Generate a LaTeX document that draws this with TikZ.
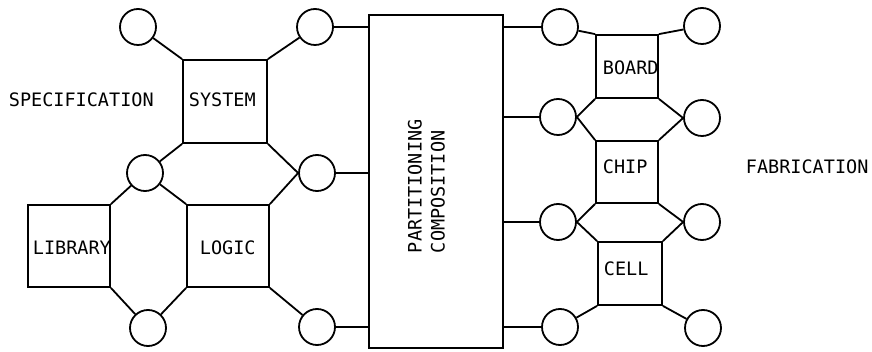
\documentclass[tikz,border=0pt]{standalone}
\usepackage{fontspec}
\newfontfamily\labfont{DejaVu Sans Mono}
\begin{document}
\begin{tikzpicture}[x=1pt,y=-1pt,
  every path/.style={line width=1.8pt},
  blk/.style={draw,line width=1.8pt,rectangle,inner sep=0pt},
  port/.style={draw,line width=1.8pt,circle,minimum size=36pt,inner sep=0pt},
  lbl/.style={inner sep=0pt,font=\labfont\fontsize{18.5}{21}\selectfont}]
\useasboundingbox (0,0) rectangle (872,352);
% boxes
\node[blk,minimum width=84pt,minimum height=83pt] (sys) at (225,101.5) {};
\node[blk,minimum width=82pt,minimum height=82pt] (lib) at (69,246) {};
\node[blk,minimum width=82pt,minimum height=82pt] (logic) at (228,246) {};
\node[blk,minimum width=134pt,minimum height=333pt] (part) at (436,181.5) {};
\node[blk,minimum width=62pt,minimum height=63pt] (board) at (627,66.5) {};
\node[blk,minimum width=62pt,minimum height=62pt] (chip) at (627,172) {};
\node[blk,minimum width=64pt,minimum height=63pt] (cell) at (630,273.5) {};
% circles
\node[port] (c1) at (138,27) {};
\node[port] (c2) at (315,27) {};
\node[port] (c3) at (145,173) {};
\node[port] (c4) at (317,173) {};
\node[port] (c5) at (148,328) {};
\node[port] (c6) at (317,327) {};
\node[port] (r1) at (560,27) {};
\node[port] (r2) at (558,117) {};
\node[port] (r3) at (558,222) {};
\node[port] (r4) at (560,327) {};
\node[port] (r5) at (702,26) {};
\node[port] (r6) at (702,118) {};
\node[port] (r7) at (702,222) {};
\node[port] (r8) at (703,328) {};
% texts
\node[lbl,anchor=west] (tspec) at (8,100) {SPECIFICATION};
\node[lbl,anchor=west] (tsys) at (188,100) {SYSTEM};
\node[lbl,anchor=west] (tlib) at (32,248) {LIBRARY};
\node[lbl,anchor=west] (tlog) at (199,248) {LOGIC};
\node[lbl,anchor=west,rotate=90] (tpart) at (415,254) {PARTITIONING};
\node[lbl,anchor=west,rotate=90] (tcomp) at (438,254) {COMPOSITION};
\node[lbl,anchor=west] (tboard) at (602,68) {BOARD};
\node[lbl,anchor=west] (tchip) at (602,167) {CHIP};
\node[lbl,anchor=west] (tcell) at (603,269) {CELL};
\node[lbl,anchor=west] (tfab) at (745,167) {FABRICATION};
% left connectors
\draw (c1) -- (sys.north west);
\draw (sys.north east) -- (c2);
\draw (sys.south west) -- (c3);
\draw (sys.south east) -- (c4.west);
\draw (c3) -- (lib.north east);
\draw (c3) -- (logic.north west);
\draw (logic.north east) -- (c4.west);
\draw (lib.south east) -- (c5);
\draw (logic.south west) -- (c5);
\draw (logic.south east) -- (c6);
\draw (c2) -- (c2 -| part.west);
\draw (c4) -- (c4 -| part.west);
\draw (c6) -- (c6 -| part.west);
% right connectors
\draw (part.east |- r1) -- (r1);
\draw (part.east |- r2) -- (r2);
\draw (part.east |- r3) -- (r3);
\draw (part.east |- r4) -- (r4);
\draw (r1) -- (board.north west);
\draw (board.north east) -- (r5);
\draw (r2.east) -- (board.south west);
\draw (r2.east) -- (chip.north west);
\draw (board.south east) -- (r6.west);
\draw (chip.north east) -- (r6.west);
\draw (r3.east) -- (chip.south west);
\draw (r3.east) -- (cell.north west);
\draw (chip.south east) -- (r7.west);
\draw (cell.north east) -- (r7.west);
\draw (cell.south west) -- (r4);
\draw (cell.south east) -- (r8);
\end{tikzpicture}
\end{document}
